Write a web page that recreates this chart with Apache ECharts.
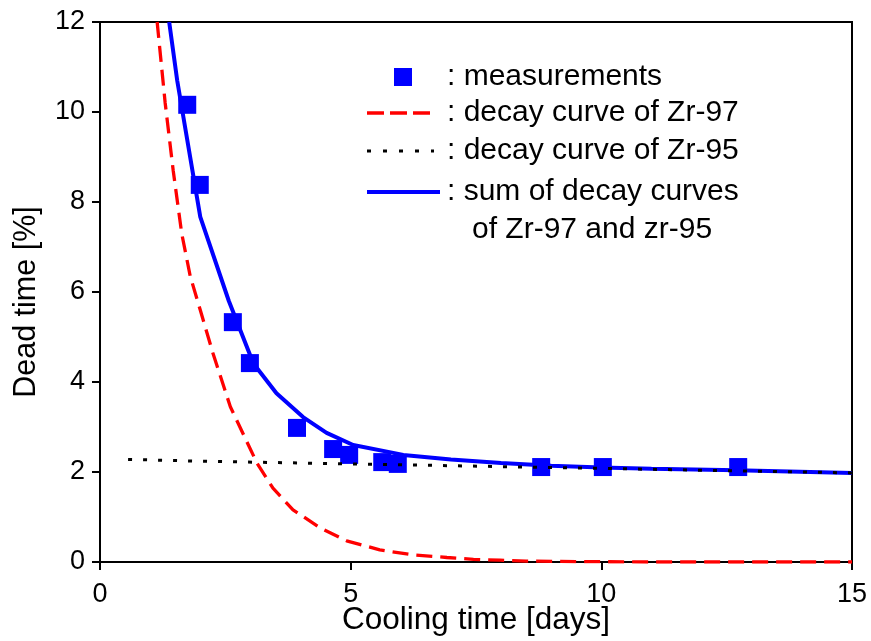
<!DOCTYPE html>
<html>
<head>
<meta charset="utf-8">
<script src="https://cdn.jsdelivr.net/npm/echarts@6/dist/echarts.min.js"></script>
<style>
html,body{margin:0;padding:0;background:#fff;}
#chart{width:871px;height:641px;}
</style>
</head>
<body>
<div id="chart"></div>
<script>
// Measurements [cooling time (days), dead time (%)]
var measurements = [
  [1.74, 10.16], [1.99, 8.38], [2.65, 5.33], [2.99, 4.42], [3.93, 2.98],
  [4.65, 2.51], [4.97, 2.38], [5.63, 2.22], [5.94, 2.18], [8.80, 2.11],
  [10.03, 2.11], [12.73, 2.11]
];
// Decay curve of Zr-97
var zr97Curve = [
  [1.14, 12], [1.30, 10.2], [1.46, 8.7], [1.63, 7.3], [1.80, 6.35],
  [2.00, 5.6], [2.25, 4.65], [2.60, 3.45], [3.13, 2.2], [3.45, 1.64],
  [3.85, 1.16], [4.39, 0.76], [4.92, 0.47], [5.58, 0.27], [6.24, 0.16],
  [6.92, 0.10], [7.45, 0.06], [7.98, 0.04], [8.5, 0.02], [9.5, 0.01],
  [11, 0], [15, 0]
];
// Decay curve of Zr-95
var zr95Curve = [
  [0.56, 2.28], [2, 2.24], [4, 2.2], [6, 2.16], [8, 2.12], [10, 2.08],
  [12, 2.04], [15, 1.98]
];
// Sum of decay curves
var sumCurve = [
  [1.38, 12], [1.54, 10.7], [2.0, 7.67], [2.57, 5.8], [3.06, 4.41],
  [3.52, 3.75], [4.05, 3.22], [4.52, 2.87], [5.05, 2.6], [6.05, 2.38],
  [7.0, 2.28], [8.0, 2.2], [9.0, 2.14], [10.0, 2.1], [11.0, 2.07],
  [12.7, 2.04], [15, 1.98]
];
var xTicks = { min: 0, max: 15, interval: 5 };
var yTicks = { min: 0, max: 12, interval: 2 };
var seriesNames = ['measurements', 'decay curve of Zr-97', 'decay curve of Zr-95', 'sum of decay curves'];
var legendExtraLine = 'of Zr-97 and zr-95';
var xTitle = 'Cooling time [days]';
var yTitle = 'Dead time [%]';

var FONT = '"Liberation Sans", Arial, sans-serif';
var LFONT = '30px "Liberation Sans", Arial, sans-serif';

// Legend drawn as graphic (key layout from the reference)
var legendRowsY = [77, 113, 151, 192];
var textX = 447;
var legendGraphics = [
  { type: 'rect', shape: { x: 394, y: legendRowsY[0] - 9, width: 18, height: 18 }, style: { fill: '#0000ff' } },
  { type: 'line', shape: { x1: 367, y1: legendRowsY[1], x2: 430, y2: legendRowsY[1] }, style: { stroke: '#ff0000', lineWidth: 3.5, lineDash: [17, 6] } },
  { type: 'line', shape: { x1: 367, y1: legendRowsY[2], x2: 434, y2: legendRowsY[2] }, style: { stroke: '#000000', lineWidth: 3, lineDash: [4, 12] } },
  { type: 'line', shape: { x1: 367, y1: legendRowsY[3], x2: 440, y2: legendRowsY[3] }, style: { stroke: '#0000ff', lineWidth: 4 } }
];
for (var i = 0; i < seriesNames.length; i++) {
  legendGraphics.push({
    type: 'text', x: textX, y: legendRowsY[i],
    style: { text: ': ' + seriesNames[i], font: LFONT, fill: '#000', align: 'left', verticalAlign: 'middle' }
  });
}
legendGraphics.push({
  type: 'text', x: 472, y: 230,
  style: { text: legendExtraLine, font: LFONT, fill: '#000', align: 'left', verticalAlign: 'middle' }
});

var chart = echarts.init(document.getElementById('chart'), null, {renderer: 'canvas'});
chart.setOption({
  animation: false,
  backgroundColor: '#ffffff',
  grid: { left: 100, right: 19, top: 22, bottom: 79, containLabel: false, outerBoundsMode: 'none',
          show: true, borderColor: '#000', borderWidth: 2, backgroundColor: 'transparent' },
  xAxis: {
    type: 'value', min: xTicks.min, max: xTicks.max, interval: xTicks.interval,
    name: xTitle, nameLocation: 'middle', nameGap: 42, nameMoveOverlap: false,
    nameTextStyle: { fontFamily: FONT, fontSize: 31.5, color: '#000' },
    axisLine: { show: true, lineStyle: { color: '#000', width: 2 } },
    axisTick: { show: true, inside: false, length: 8, lineStyle: { color: '#000', width: 2 } },
    axisLabel: { fontFamily: FONT, fontSize: 27, color: '#000', margin: 19 },
    splitLine: { show: false }
  },
  yAxis: {
    type: 'value', min: yTicks.min, max: yTicks.max, interval: yTicks.interval,
    name: yTitle, nameLocation: 'middle', nameGap: 58, nameRotate: 90, nameMoveOverlap: false,
    nameTextStyle: { fontFamily: FONT, fontSize: 30.5, color: '#000', padding: [0, 20, 0, 0] },
    axisLine: { show: true, lineStyle: { color: '#000', width: 2 } },
    axisTick: { show: true, inside: false, length: 8, lineStyle: { color: '#000', width: 2 } },
    axisLabel: { fontFamily: FONT, fontSize: 27, color: '#000', margin: 15 },
    splitLine: { show: false }
  },
  graphic: legendGraphics,
  series: [
    {
      name: seriesNames[0], type: 'scatter', data: measurements,
      symbol: 'rect', symbolSize: 18, itemStyle: { color: '#0000ff', opacity: 1 }, z: 2
    },
    {
      name: seriesNames[1], type: 'line', data: zr97Curve, showSymbol: false, symbol: 'none',
      lineStyle: { color: '#ff0000', width: 3.3, type: [16, 8] }, z: 3
    },
    {
      name: seriesNames[2], type: 'line', data: zr95Curve, showSymbol: false, symbol: 'none',
      lineStyle: { color: '#000000', width: 3, type: [4, 11] }, z: 4
    },
    {
      name: seriesNames[3], type: 'line', data: sumCurve, showSymbol: false, symbol: 'none',
      lineStyle: { color: '#0000ff', width: 4 }, z: 3
    }
  ]
});
</script>
</body>
</html>
